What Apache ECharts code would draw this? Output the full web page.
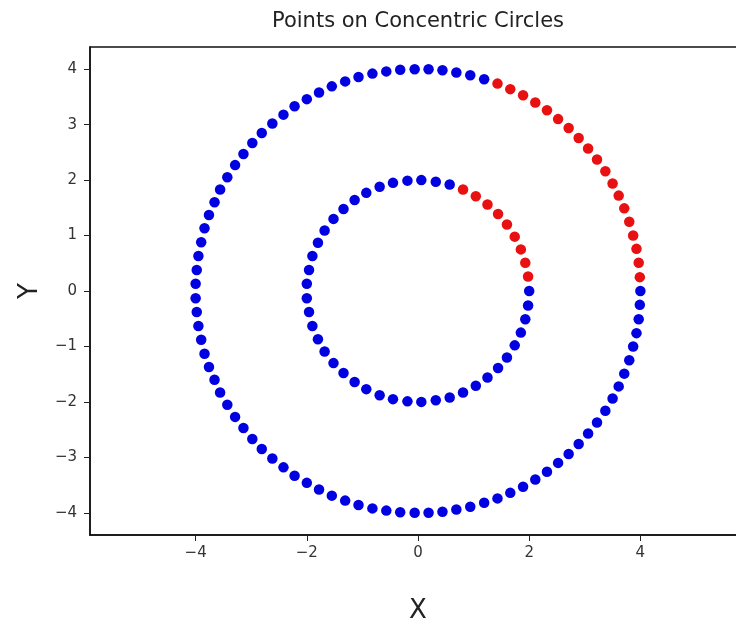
<!DOCTYPE html>
<html>
<head>
<meta charset="utf-8">
<title>Points on Concentric Circles</title>
<script src="https://cdn.jsdelivr.net/npm/echarts@6/dist/echarts.min.js"></script>
<style>
  html, body { margin: 0; padding: 0; background: #fff; overflow: hidden; }
  /* the original figure is cut off on the right, so the canvas is wider than the window */
  #chart { width: 770px; height: 629px; }
</style>
</head>
<body>
<div id="chart"></div>
<script>
// inner circle (r = 2), first arc in red
const innerRedX = [1.98, 1.93, 1.85, 1.74, 1.60, 1.44, 1.25, 1.04, 0.81]
const innerRedY = [0.26, 0.51, 0.75, 0.98, 1.20, 1.39, 1.56, 1.71, 1.83]
const innerBlueX = [0.57, 0.32, 0.06, -0.19, -0.45, -0.69, -0.93, -1.14, -1.34, -1.52,
  -1.68, -1.80, -1.90, -1.96, -2.00, -2.00, -1.96, -1.90, -1.80, -1.68,
  -1.52, -1.34, -1.14, -0.93, -0.69, -0.45, -0.19, 0.06, 0.32, 0.57,
  0.81, 1.04, 1.25, 1.44, 1.60, 1.74, 1.85, 1.93, 1.98, 2.00]
const innerBlueY = [1.92, 1.97, 2.00, 1.99, 1.95, 1.88, 1.77, 1.64, 1.48, 1.30,
  1.09, 0.87, 0.63, 0.38, 0.13, -0.13, -0.38, -0.63, -0.87, -1.09,
  -1.30, -1.48, -1.64, -1.77, -1.88, -1.95, -1.99, -2.00, -1.97, -1.92,
  -1.83, -1.71, -1.56, -1.39, -1.20, -0.98, -0.75, -0.51, -0.26, 0.00]

// outer circle (r = 4)
const outerRedX = [3.99, 3.97, 3.93, 3.87, 3.80, 3.71, 3.61, 3.50, 3.37, 3.22,
  3.06, 2.89, 2.71, 2.52, 2.32, 2.11, 1.89, 1.66, 1.43]
const outerRedY = [0.25, 0.51, 0.76, 1.00, 1.25, 1.49, 1.72, 1.94, 2.16, 2.37,
  2.57, 2.76, 2.94, 3.10, 3.26, 3.40, 3.53, 3.64, 3.74]
const outerBlueX = [1.19, 0.94, 0.69, 0.44, 0.19, -0.06, -0.32, -0.57, -0.82, -1.07,
  -1.31, -1.55, -1.78, -2.00, -2.22, -2.42, -2.62, -2.81, -2.98, -3.14,
  -3.29, -3.43, -3.56, -3.66, -3.76, -3.84, -3.90, -3.95, -3.98, -4.00,
  -4.00, -3.98, -3.95, -3.90, -3.84, -3.76, -3.66, -3.56, -3.43, -3.29,
  -3.14, -2.98, -2.81, -2.62, -2.42, -2.22, -2.00, -1.78, -1.55, -1.31,
  -1.07, -0.82, -0.57, -0.32, -0.06, 0.19, 0.44, 0.69, 0.94, 1.19,
  1.43, 1.66, 1.89, 2.11, 2.32, 2.52, 2.71, 2.89, 3.06, 3.22,
  3.37, 3.50, 3.61, 3.71, 3.80, 3.87, 3.93, 3.97, 3.99, 4.00]
const outerBlueY = [3.82, 3.89, 3.94, 3.98, 4.00, 4.00, 3.99, 3.96, 3.92, 3.86,
  3.78, 3.69, 3.58, 3.46, 3.33, 3.18, 3.02, 2.85, 2.67, 2.47,
  2.27, 2.05, 1.83, 1.60, 1.37, 1.13, 0.88, 0.63, 0.38, 0.13,
  -0.13, -0.38, -0.63, -0.88, -1.13, -1.37, -1.60, -1.83, -2.05, -2.27,
  -2.47, -2.67, -2.85, -3.02, -3.18, -3.33, -3.46, -3.58, -3.69, -3.78,
  -3.86, -3.92, -3.96, -3.99, -4.00, -4.00, -3.98, -3.94, -3.89, -3.82,
  -3.74, -3.64, -3.53, -3.40, -3.26, -3.10, -2.94, -2.76, -2.57, -2.37,
  -2.16, -1.94, -1.72, -1.49, -1.25, -1.00, -0.76, -0.51, -0.25, 0.00]

const xTicks = [-4, -2, 0, 2, 4]
const yTicks = [-4, -3, -2, -1, 0, 1, 2, 3, 4]

const zip = (xs, ys) => xs.map((x, i) => [x, ys[i]])
const minus = v => String(v).replace('-', '\u2212')

const chart = echarts.init(document.getElementById('chart'))
const font = 'DejaVu Sans'
const red = '#e81010'
const blue = '#0000e0'

chart.setOption({
  animation: false,
  backgroundColor: '#fff',
  textStyle: { fontFamily: font },
  grid: {
    left: 90, top: 47, width: 656, height: 492,
    show: true, borderColor: '#111', borderWidth: 1.5
  },
  graphic: [{
    type: 'text',
    style: {
      x: 418, y: 22, text: 'Points on Concentric Circles',
      fontFamily: font, fontSize: 21, fill: '#222',
      textAlign: 'center', textVerticalAlign: 'middle'
    }
  }],
  xAxis: {
    type: 'value', min: -5.9, max: 5.9,
    name: 'X', nameLocation: 'middle', nameGap: 63,
    nameTextStyle: { fontSize: 26, color: '#222', fontFamily: font },
    axisLine: { onZero: false, lineStyle: { color: '#111', width: 1.5 } },
    axisTick: { customValues: xTicks, length: 6, lineStyle: { color: '#222' } },
    axisLabel: { customValues: xTicks, formatter: minus, fontSize: 15, color: '#333', margin: 11 },
    splitLine: { show: false }
  },
  yAxis: {
    type: 'value', min: -4.4, max: 4.4,
    name: 'Y', nameLocation: 'middle', nameGap: 47, nameRotate: 90,
    nameTextStyle: { fontSize: 26, color: '#222', fontFamily: font },
    axisLine: { onZero: false, lineStyle: { color: '#111', width: 1.5 } },
    axisTick: { customValues: yTicks, length: 6, lineStyle: { color: '#222' } },
    axisLabel: { customValues: yTicks, formatter: minus, fontSize: 15, color: '#333', margin: 13 },
    splitLine: { show: false }
  },
  series: [
    { type: 'scatter', symbolSize: 10.5, itemStyle: { color: red, opacity: 1 }, data: zip(innerRedX, innerRedY) },
    { type: 'scatter', symbolSize: 10.5, itemStyle: { color: red, opacity: 1 }, data: zip(outerRedX, outerRedY) },
    { type: 'scatter', symbolSize: 10.5, itemStyle: { color: blue, opacity: 1 }, data: zip(innerBlueX, innerBlueY) },
    { type: 'scatter', symbolSize: 10.5, itemStyle: { color: blue, opacity: 1 }, data: zip(outerBlueX, outerBlueY) }
  ]
})
</script>
</body>
</html>
